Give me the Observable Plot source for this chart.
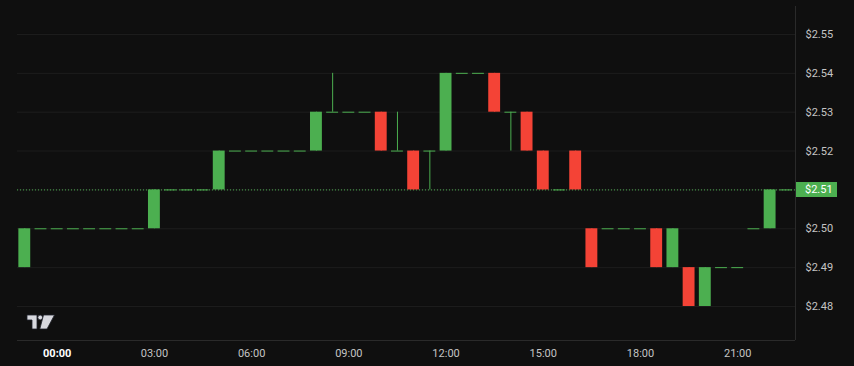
<!DOCTYPE html>
<html><head><meta charset="utf-8">
<script src="https://cdn.jsdelivr.net/npm/d3@7"></script>
<script src="https://cdn.jsdelivr.net/npm/@observablehq/plot@0.6"></script>
<style>
html,body{margin:0;padding:0;background:#0f0f0f;}
#chart{width:854px;height:366px;}
</style></head><body><div id="chart"></div>
<script>
const times = [
  "2024-01-01T23:00Z","2024-01-01T23:30Z","2024-01-02T00:00Z","2024-01-02T00:30Z",
  "2024-01-02T01:00Z","2024-01-02T01:30Z","2024-01-02T02:00Z","2024-01-02T02:30Z",
  "2024-01-02T03:00Z","2024-01-02T03:30Z","2024-01-02T04:00Z","2024-01-02T04:30Z",
  "2024-01-02T05:00Z","2024-01-02T05:30Z","2024-01-02T06:00Z","2024-01-02T06:30Z",
  "2024-01-02T07:00Z","2024-01-02T07:30Z","2024-01-02T08:00Z","2024-01-02T08:30Z",
  "2024-01-02T09:00Z","2024-01-02T09:30Z","2024-01-02T10:00Z","2024-01-02T10:30Z",
  "2024-01-02T11:00Z","2024-01-02T11:30Z","2024-01-02T12:00Z","2024-01-02T12:30Z",
  "2024-01-02T13:00Z","2024-01-02T13:30Z","2024-01-02T14:00Z","2024-01-02T14:30Z",
  "2024-01-02T15:00Z","2024-01-02T15:30Z","2024-01-02T16:00Z","2024-01-02T16:30Z",
  "2024-01-02T17:00Z","2024-01-02T17:30Z","2024-01-02T18:00Z","2024-01-02T18:30Z",
  "2024-01-02T19:00Z","2024-01-02T19:30Z","2024-01-02T20:00Z","2024-01-02T20:30Z",
  "2024-01-02T21:00Z","2024-01-02T21:30Z","2024-01-02T22:00Z","2024-01-02T22:30Z"
];
const opens = [
  2.49,2.50,2.50,2.50,2.50,2.50,2.50,2.50,
  2.50,2.51,2.51,2.51,2.51,2.52,2.52,2.52,
  2.52,2.52,2.52,2.53,2.53,2.53,2.53,2.52,
  2.52,2.52,2.52,2.54,2.54,2.54,2.53,2.53,
  2.52,2.51,2.52,2.50,2.50,2.50,2.50,2.50,
  2.49,2.49,2.48,2.49,2.49,2.50,2.50,2.51
];
const highs = [
  2.50,2.50,2.50,2.50,2.50,2.50,2.50,2.50,
  2.51,2.51,2.51,2.51,2.52,2.52,2.52,2.52,
  2.52,2.52,2.53,2.54,2.53,2.53,2.53,2.53,
  2.52,2.52,2.54,2.54,2.54,2.54,2.53,2.53,
  2.52,2.51,2.52,2.50,2.50,2.50,2.50,2.50,
  2.50,2.49,2.49,2.49,2.49,2.50,2.51,2.51
];
const lows = [
  2.49,2.50,2.50,2.50,2.50,2.50,2.50,2.50,
  2.50,2.51,2.51,2.51,2.51,2.52,2.52,2.52,
  2.52,2.52,2.52,2.53,2.53,2.53,2.52,2.52,
  2.51,2.51,2.52,2.54,2.54,2.53,2.52,2.52,
  2.51,2.51,2.51,2.49,2.50,2.50,2.50,2.49,
  2.49,2.48,2.48,2.49,2.49,2.50,2.50,2.51
];
const closes = [
  2.50,2.50,2.50,2.50,2.50,2.50,2.50,2.50,
  2.51,2.51,2.51,2.51,2.52,2.52,2.52,2.52,
  2.52,2.52,2.53,2.53,2.53,2.53,2.52,2.52,
  2.51,2.52,2.54,2.54,2.54,2.53,2.53,2.52,
  2.51,2.51,2.51,2.49,2.50,2.50,2.50,2.49,
  2.50,2.48,2.49,2.49,2.49,2.50,2.51,2.51
];
const priceTicks = [2.48,2.49,2.50,2.51,2.52,2.53,2.54,2.55];
const timeTicks = ["2024-01-02T00:00Z","2024-01-02T03:00Z","2024-01-02T06:00Z","2024-01-02T09:00Z",
                   "2024-01-02T12:00Z","2024-01-02T15:00Z","2024-01-02T18:00Z","2024-01-02T21:00Z"];
const xDomain = ["2024-01-01T22:46:30Z","2024-01-02T22:47:00Z"];
const yDomain = [2.47125, 2.5572];

const UP = "#4caf50", DOWN = "#f44336";
const BG = "#0f0f0f", GRID = "#1d1d1d", BORDER = "#2a2a2a", TEXT = "#c4c4c4";

const candles = times.map((t, i) => {
  const d = new Date(t);
  return {
    t: d,
    t1: d3.utcMinute.offset(d, -11),
    t2: d3.utcMinute.offset(d, 11),
    open: opens[i], high: highs[i], low: lows[i], close: closes[i],
    color: closes[i] >= opens[i] ? UP : DOWN,
    flat: Math.abs(closes[i] - opens[i]) < 1e-9
  };
});
const bodies = candles.filter(d => !d.flat);
const flats = candles.filter(d => d.flat);
const lastClose = closes[closes.length - 1];
const axisPriceTicks = priceTicks.filter(p => Math.abs(p - lastClose) > 1e-9);
const tickDates = timeTicks.map(s => new Date(s));
const boldTicks = tickDates.filter(d => d.getUTCHours() === 0);
const normalTicks = tickDates.filter(d => d.getUTCHours() !== 0);

function overlay(index, scales, values, dimensions) {
  const {width, height, marginLeft, marginRight, marginTop, marginBottom} = dimensions;
  const g = d3.create("svg:g");
  const xr = width - marginRight, yb = height - marginBottom;
  g.append("line").attr("x1", marginLeft).attr("x2", xr).attr("y1", yb + 0.5).attr("y2", yb + 0.5).attr("stroke", BORDER);
  g.append("line").attr("x1", xr + 0.5).attr("x2", xr + 0.5).attr("y1", marginTop).attr("y2", yb).attr("stroke", BORDER);
  const y = scales.y(lastClose);
  g.append("rect").attr("x", xr + 1).attr("y", Math.round(y) - 7).attr("width", 41).attr("height", 15).attr("fill", UP);
  g.append("text").attr("x", xr + 10).attr("y", Math.round(y) + 0.5).attr("dy", "0.35em")
    .attr("text-anchor", "start").attr("fill", "#ffffff").attr("font-size", 11)
    .text("$" + lastClose.toFixed(2));
  // TradingView logo
  const lx = marginLeft + 10, ly = yb - 25;
  const logo = g.append("g").attr("transform", `translate(${lx},${ly})`).attr("fill", "#d8d9df").attr("stroke", "#20222b").attr("stroke-width", 0.8);
  logo.append("path").attr("d", "M0,0H10V14H5V5H0Z");
  logo.append("circle").attr("cx", 13.2).attr("cy", 2.5).attr("r", 2.4);
  logo.append("path").attr("d", "M16.5,0H27.5L20,14H12.8Z");
  return g.node();
}

const chart = Plot.plot({
  width: 854, height: 366,
  marginLeft: 17, marginRight: 59, marginTop: 6, marginBottom: 26,
  style: {background: BG, fontFamily: "Roboto, 'Noto Sans', sans-serif", fontSize: "11px", color: TEXT},
  x: {type: "utc", domain: xDomain.map(s => new Date(s))},
  y: {domain: yDomain},
  marks: [
    Plot.gridY(priceTicks, {stroke: GRID, strokeOpacity: 1}),
    Plot.axisY(axisPriceTicks, {anchor: "right", tickSize: 0, tickPadding: 10, label: null,
      tickFormat: d => "$" + d.toFixed(2), fill: TEXT}),
    Plot.axisX(normalTicks, {anchor: "bottom", tickSize: 0, tickPadding: 9, label: null,
      tickFormat: d3.utcFormat("%H:%M"), fill: TEXT}),
    Plot.axisX(boldTicks, {anchor: "bottom", tickSize: 0, tickPadding: 9, label: null,
      tickFormat: d3.utcFormat("%H:%M"), fill: "#ffffff", fontWeight: "bold"}),
    Plot.ruleY([lastClose], {stroke: UP, strokeDasharray: "1,2"}),
    Plot.ruleX(candles, {x: "t", y1: "low", y2: "high", stroke: "color"}),
    Plot.ruleY(flats, {y: "open", x1: "t1", x2: "t2", stroke: "color"}),
    Plot.rect(bodies, {x1: "t1", x2: "t2", y1: "open", y2: "close", fill: "color"}),
    overlay
  ]
});
document.getElementById("chart").appendChild(chart);
</script>
</body></html>
